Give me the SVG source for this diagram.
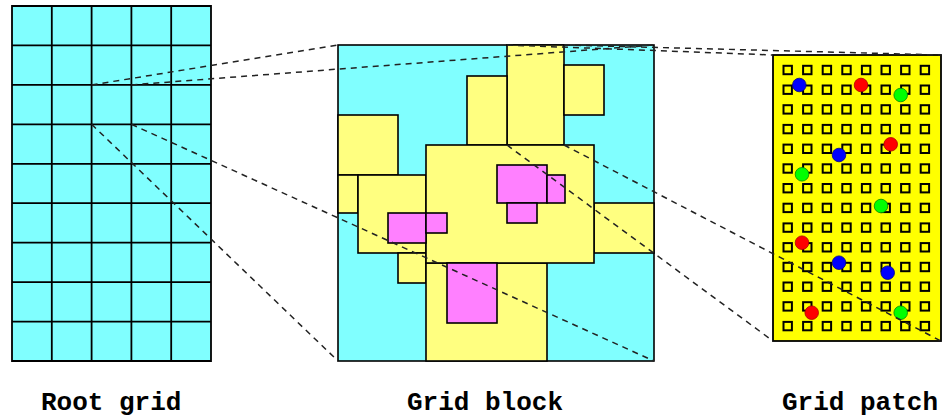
<svg xmlns="http://www.w3.org/2000/svg" width="943" height="418" viewBox="0 0 943 418">
<style>
.cy{fill:#80ffff;stroke:#000;stroke-width:1.6}
.yl{fill:#ffff80;stroke:#000;stroke-width:1.6}
.pk{fill:#ff80ff;stroke:#000;stroke-width:1.6}
.gl{fill:none;stroke:#000;stroke-width:1.8}
.pt{fill:#ffff00;stroke:#000;stroke-width:1.8}
.sq{fill:none;stroke:#000;stroke-width:2}
.dl{fill:none;stroke:#222;stroke-width:1.5;stroke-dasharray:6 5}
.lb{font-family:"Liberation Mono","Courier New",monospace;font-size:26px;font-weight:bold;fill:#000}
.r{fill:#ff0000;stroke:#a00;stroke-width:0.8}
.b{fill:#0000ff;stroke:#008;stroke-width:0.8}
.g{fill:#00ff00;stroke:#080;stroke-width:0.8}
</style>
<defs>
<g id="sqrow">
<rect class="sq" x="783.5" y="-4.2" width="8.4" height="8.4"/>
<rect class="sq" x="803.1" y="-4.2" width="8.4" height="8.4"/>
<rect class="sq" x="822.7" y="-4.2" width="8.4" height="8.4"/>
<rect class="sq" x="842.3" y="-4.2" width="8.4" height="8.4"/>
<rect class="sq" x="861.9" y="-4.2" width="8.4" height="8.4"/>
<rect class="sq" x="881.5" y="-4.2" width="8.4" height="8.4"/>
<rect class="sq" x="901.1" y="-4.2" width="8.4" height="8.4"/>
<rect class="sq" x="920.7" y="-4.2" width="8.4" height="8.4"/>
</g>
</defs>
<rect width="943" height="418" fill="#fff"/>
<g id="root-grid">
<rect x="12" y="6" width="199" height="355" fill="#80ffff"/>
<path class="gl" d="M12 6H211V361H12Z M51.8 6V361 M91.6 6V361 M131.4 6V361 M171.2 6V361 M12 45.4H211 M12 84.9H211 M12 124.3H211 M12 163.8H211 M12 203.2H211 M12 242.7H211 M12 282.1H211 M12 321.6H211"/>
<text class="lb" x="41" y="410">Root grid</text>
</g>
<g id="grid-block">
<rect class="cy" x="338" y="45" width="316" height="316"/>
<rect class="yl" x="507" y="45" width="57" height="100"/>
<rect class="yl" x="467" y="76" width="40" height="69"/>
<rect class="yl" x="564" y="65" width="40" height="50"/>
<rect class="yl" x="338" y="115" width="60" height="60"/>
<rect class="yl" x="338" y="175" width="20" height="38"/>
<rect class="yl" x="358" y="175" width="68" height="78"/>
<rect class="yl" x="398" y="253" width="28" height="30"/>
<rect class="yl" x="594" y="203" width="60" height="50"/>
<rect class="yl" x="426" y="263" width="121" height="98"/>
<rect class="yl" x="426" y="145" width="168" height="118"/>
<rect class="pk" x="447" y="263" width="50" height="60"/>
<rect class="pk" x="497" y="165" width="50" height="38"/>
<rect class="pk" x="547" y="175" width="18" height="28"/>
<rect class="pk" x="507" y="203" width="30" height="20"/>
<rect class="pk" x="388" y="213" width="38" height="30"/>
<rect class="pk" x="426" y="213" width="21" height="20"/>
<text class="lb" x="407" y="410">Grid block</text>
</g>
<g id="grid-patch">
<rect class="pt" x="773" y="55" width="168" height="286"/>
<use href="#sqrow" y="70"/>
<use href="#sqrow" y="89.7"/>
<use href="#sqrow" y="109.4"/>
<use href="#sqrow" y="129.1"/>
<use href="#sqrow" y="148.8"/>
<use href="#sqrow" y="168.5"/>
<use href="#sqrow" y="188.2"/>
<use href="#sqrow" y="207.9"/>
<use href="#sqrow" y="227.6"/>
<use href="#sqrow" y="247.3"/>
<use href="#sqrow" y="267"/>
<use href="#sqrow" y="286.7"/>
<use href="#sqrow" y="306.4"/>
<use href="#sqrow" y="326.1"/>
<circle class="b" cx="799.3" cy="85" r="6.8"/>
<circle class="r" cx="861" cy="85" r="6.8"/>
<circle class="g" cx="900.7" cy="95" r="6.8"/>
<circle class="r" cx="890.7" cy="144.3" r="6.8"/>
<circle class="b" cx="839" cy="155" r="6.8"/>
<circle class="g" cx="802" cy="174.3" r="6.8"/>
<circle class="g" cx="881" cy="206" r="6.8"/>
<circle class="r" cx="802" cy="242.7" r="6.8"/>
<circle class="b" cx="839" cy="262.7" r="6.8"/>
<circle class="b" cx="887.7" cy="272.7" r="6.8"/>
<circle class="r" cx="811.7" cy="312.7" r="6.8"/>
<circle class="g" cx="900.7" cy="312.7" r="6.8"/>
<text class="lb" x="782" y="410">Grid patch</text>
</g>
<g id="connectors">
<line class="dl" x1="91.6" y1="84.9" x2="338" y2="45"/>
<line class="dl" x1="131.4" y1="84.9" x2="654" y2="45"/>
<line class="dl" x1="91.6" y1="124.3" x2="338" y2="361"/>
<line class="dl" x1="131.4" y1="124.3" x2="654" y2="361"/>
<line class="dl" x1="507" y1="45" x2="773" y2="55"/>
<line class="dl" x1="564" y1="45" x2="941" y2="55"/>
<line class="dl" x1="507" y1="145" x2="773" y2="341"/>
<line class="dl" x1="564" y1="145" x2="941" y2="341"/>
</g>
</svg>
